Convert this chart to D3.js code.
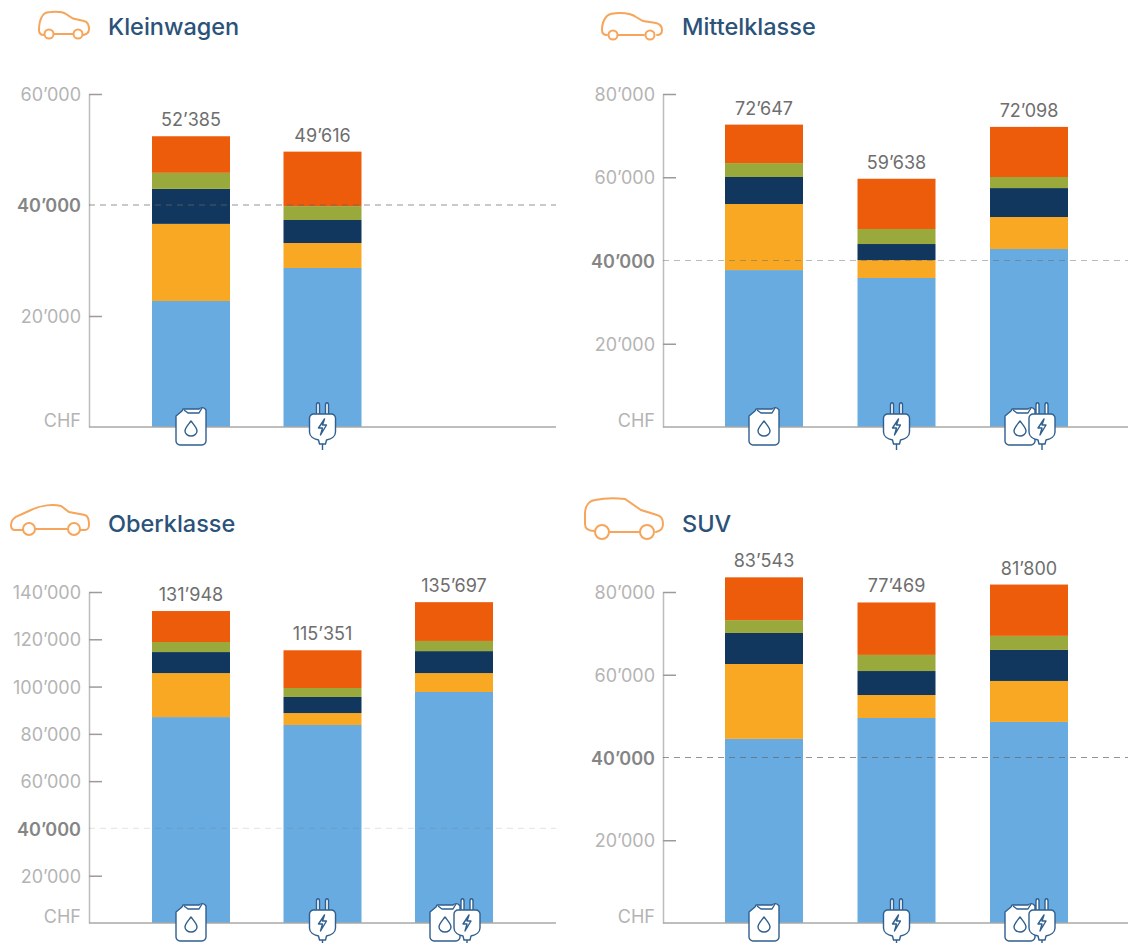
<!DOCTYPE html>
<html>
<head>
<meta charset="utf-8">
<script src="https://cdn.jsdelivr.net/npm/d3@7"></script>
<style>
  html, body { margin: 0; padding: 0; background: #fff; }
  svg { display: block; }
  text { font-family: Inter, "Noto Sans", sans-serif; }
</style>
</head>
<body>
<div id="chart-area"></div>
<script>
// stacking order, bottom to top
const segmentKeys = ["blue", "orange", "navy", "green", "red"];
const segmentColors = ["#68abe0", "#f9a823", "#12375f", "#9aa93c", "#ec5c0b"];
const driveTypes = ["fuel", "electric", "hybrid"];

const kleinwagenValues = [
    [22700, 13900, 6300, 2900, 6585],
    [28650, 4500, 4150, 2500, 9816]
];
const mittelklasseValues = [
    [37700, 15870, 6490, 3340, 9247],
    [35800, 4300, 3860, 3610, 12068],
    [42760, 7690, 6950, 2660, 12038]
];
const oberklasseValues = [
    [87100, 18600, 8900, 4250, 13098],
    [83750, 5050, 6800, 3800, 15951],
    [97700, 8000, 9300, 4300, 16397]
];
const suvValues = [
    [44500, 18100, 7500, 3100, 10343],
    [49550, 5550, 5800, 3900, 12669],
    [48600, 9900, 7500, 3400, 12400]
];

const kleinwagenTicks = [0, 20000, 40000, 60000];
const mittelklasseTicks = [0, 20000, 40000, 60000, 80000];
const oberklasseTicks = [0, 20000, 40000, 60000, 80000, 100000, 120000, 140000];
const suvTicks = [0, 20000, 40000, 60000, 80000];

const width = 1128;
const height = 943;

const fmt = d3.formatLocale({ thousands: "’", grouping: [3], decimal: ".", currency: ["", ""] }).format(",d");
const color = d3.scaleOrdinal(segmentKeys, segmentColors);

const svg = d3.select("#chart-area")
    .append("svg")
    .attr("width", width)
    .attr("height", height);

// outlines of the car pictograms, in their own little coordinate systems
const carIcons = {
    small: {
        x: 39, y: 12,
        body: "M5 23 C2 23 0 21 0 18 C0 12 1 7 4 3 C5.5 1 8 0 12 0 C18 -0.5 24 0 27 2 L34 6.5 L45 9 C49 10 50 13 50 17 C50 20 49 22 44.500 23 M15 22 H34",
        wheels: [[10, 22], [39, 22]], r: 4.5
    },
    middle: {
        x: 602, y: 13,
        body: "M5 22 C2 22 0 20 0 17 C0 11 2 6 5 3 C8 0 13 0 18 0 C25 0 30 1 34 4 L41 8 L54 10 C58 11 60 13 60 17 C60 20 58 22 55 22 M16 22 H42",
        wheels: [[11, 22], [48, 22]], r: 4.5
    },
    sedan: {
        x: 11, y: 505,
        body: "M12 25 H4 C1 25 0 23 0 20 C0 15 3 12 9 10 L20 5 C30 0 42 -1 50 1 L58 7 L74 10 C77 11 78 15 78 20 C78 23 76 25 74 25 H69 M24 24 H57",
        wheels: [[18, 24], [63, 24]], r: 6
    },
    suv: {
        x: 585, y: 498,
        body: "M10 33 C3 33 0 30 0 26 V16 C0 8 4 3 10 2 C20 0 30 0 40 1 L56 12 L72 17 C77 18 78 22 78 26 C78 30 76 33 71 34 M24 34 H55",
        wheels: [[17, 34], [62, 34]], r: 7
    }
};

// one row per chart panel
const panels = [
    { title: "Kleinwagen", titleX: 108, titleY: 35, car: "small", values: kleinwagenValues, ticks: kleinwagenTicks,
      axisX: 89, top: 94, bottom: 427, barLeft: 152, barSpan: 341, lineEnd: 556, refOpacity: 0.7 },
    { title: "Mittelklasse", titleX: 682, titleY: 35, car: "middle", values: mittelklasseValues, ticks: mittelklasseTicks,
      axisX: 663, top: 94, bottom: 427, barLeft: 725, barSpan: 343, lineEnd: 1128, refOpacity: 0.45 },
    { title: "Oberklasse", titleX: 108, titleY: 532, car: "sedan", values: oberklasseValues, ticks: oberklasseTicks,
      axisX: 89, top: 592, bottom: 923, barLeft: 152, barSpan: 341, lineEnd: 556, refOpacity: 0.15 },
    { title: "SUV", titleX: 682, titleY: 532, car: "suv", values: suvValues, ticks: suvTicks,
      axisX: 663, top: 592, bottom: 923, barLeft: 725, barSpan: 343, lineEnd: 1128, refOpacity: 0.7 }
];

function drawCar(kind) {
    const icon = carIcons[kind];
    const g = svg.append("g")
        .attr("transform", `translate(${icon.x}, ${icon.y})`)
        .attr("fill", "none")
        .attr("stroke", "#f6a55a")
        .attr("stroke-width", 2)
        .attr("stroke-linecap", "round");
    g.append("path").attr("d", icon.body);
    g.selectAll("circle")
        .data(icon.wheels)
        .enter().append("circle")
        .attr("cx", d => d[0])
        .attr("cy", d => d[1])
        .attr("r", icon.r);
}

function fuelIcon(g) {
    g.append("path")
        .attr("d", "M-15 -11 L-9 -16 L-8 -18 H8 C10 -20 13 -20 15 -17 V14 C15 16 13 18 11 18 H-11 C-13 18 -15 16 -15 14 Z")
        .attr("fill", "#fff");
    g.append("path").attr("d", "M-7 -17 L-3 -14 H8 L11 -19");
    g.append("path").attr("d", "M0 -6 C3 -2 6 1 6 4 C6 7 3 9 0 9 C-3 9 -6 7 -6 4 C-6 1 -3 -2 0 -6 Z");
}

function plugIcon(g) {
    g.append("path")
        .attr("d", "M-6 -13 V-22 C-6 -25 -3 -25 -3 -22 V-13 M3 -13 V-22 C3 -25 6 -25 6 -22 V-13")
        .attr("fill", "#fff");
    g.append("path")
        .attr("d", "M-9 -13 H9 C11 -13 13 -11 13 -9 V5 C13 9 9 12 4 13 L3 17 H-3 L-4 13 C-9 12 -13 9 -13 5 V-9 C-13 -11 -11 -13 -9 -13 Z")
        .attr("fill", "#fff");
    g.append("path").attr("d", "M0 17 V23");
    g.append("path").attr("d", "M2 -8 L-4 1 H0 L-2 8 L4 -2 H0 Z");
}

function drawDriveIcon(parent, type, cx, cy) {
    const g = parent.append("g")
        .attr("fill", "none")
        .attr("stroke", "#2f5f8f")
        .attr("stroke-width", 1.4)
        .attr("stroke-linejoin", "round");
    if (type === "fuel") {
        fuelIcon(g.append("g").attr("transform", `translate(${cx}, ${cy})`));
    } else if (type === "electric") {
        plugIcon(g.append("g").attr("transform", `translate(${cx}, ${cy})`));
    } else {
        fuelIcon(g.append("g").attr("transform", `translate(${cx - 9}, ${cy})`));
        plugIcon(g.append("g").attr("transform", `translate(${cx + 13}, ${cy})`));
    }
}

panels.forEach(p => {
    drawCar(p.car);

    svg.append("text")
        .attr("x", p.titleX)
        .attr("y", p.titleY)
        .attr("font-size", 23.5)
        .attr("font-weight", 500)
        .attr("fill", "#2b5279")
        .text(p.title);

    const y = d3.scaleLinear()
        .domain([0, d3.max(p.ticks)])
        .range([p.bottom, p.top]);

    const x = d3.scaleBand()
        .domain(driveTypes)
        .range([p.barLeft, p.barLeft + p.barSpan])
        .paddingInner((p.barSpan - 234) / 2 / ((p.barSpan - 234) / 2 + 78))
        .paddingOuter(0);

    // y axis, ticks point into the plot
    const axis = svg.append("g")
        .attr("transform", `translate(${p.axisX}, 0)`)
        .call(d3.axisLeft(y)
            .tickValues(p.ticks)
            .tickSizeInner(-13)
            .tickSizeOuter(0)
            .tickPadding(8)
            .tickFormat(d => d === 0 ? "CHF" : fmt(d)));
    axis.select(".domain").attr("stroke", "#bdbdbd").attr("stroke-width", 1.5);
    axis.selectAll(".tick line")
        .attr("stroke", "#9b9b9b")
        .attr("stroke-width", 1.5)
        .attr("display", d => (d === 0 || d === 40000) ? "none" : null);
    axis.selectAll(".tick text")
        .attr("font-size", 18)
        .attr("font-family", 'Inter, "Noto Sans", sans-serif')
        .attr("fill", d => d === 40000 ? "#858585" : "#b4b4b4")
        .attr("font-weight", d => d === 40000 ? 600 : 400)
        .attr("dy", d => d === 0 ? "-0.03em" : "0.37em");

    // stacked bars
    const rows = p.values.map((vals, i) => {
        const row = { type: driveTypes[i], total: d3.sum(vals) };
        segmentKeys.forEach((k, j) => { row[k] = vals[j]; });
        return row;
    });
    const series = d3.stack().keys(segmentKeys)(rows);

    svg.append("g")
        .selectAll("g")
        .data(series)
        .enter().append("g")
        .attr("fill", d => color(d.key))
        .selectAll("rect")
        .data(d => d)
        .enter().append("rect")
        .attr("x", d => x(d.data.type))
        .attr("y", d => y(d[1]))
        .attr("width", x.bandwidth())
        .attr("height", d => y(d[0]) - y(d[1]));

    // totals above the bars
    svg.append("g")
        .selectAll("text")
        .data(rows)
        .enter().append("text")
        .attr("x", d => x(d.type) + x.bandwidth() / 2)
        .attr("y", d => y(d.total) - 10)
        .attr("text-anchor", "middle")
        .attr("font-size", 18)
        .attr("fill", "#6e6e6e")
        .text(d => fmt(d.total));

    // 40'000 reference line and baseline
    svg.append("line")
        .attr("x1", p.axisX)
        .attr("x2", p.lineEnd)
        .attr("y1", y(40000))
        .attr("y2", y(40000))
        .attr("stroke", "#666")
        .attr("stroke-opacity", p.refOpacity)
        .attr("stroke-width", 1.2)
        .attr("stroke-dasharray", "6 5");

    svg.append("line")
        .attr("x1", p.axisX)
        .attr("x2", p.lineEnd)
        .attr("y1", y(0))
        .attr("y2", y(0))
        .attr("stroke", "#a9a9a9")
        .attr("stroke-width", 1.5);

    rows.forEach(r => {
        drawDriveIcon(svg, r.type, x(r.type) + x.bandwidth() / 2, y(0));
    });
});
</script>
</body>
</html>
